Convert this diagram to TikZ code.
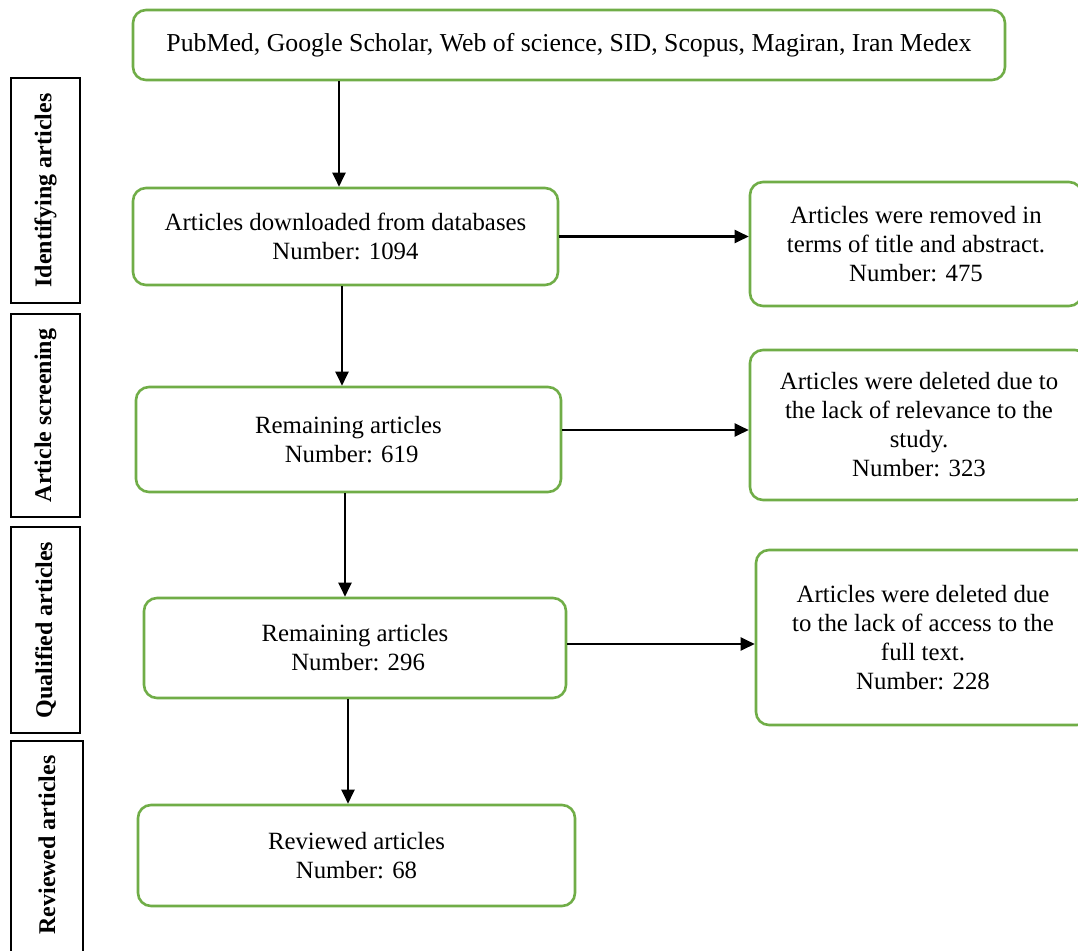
\documentclass[tikz,border=0pt]{standalone}
\usepackage{fontspec}
\setmainfont{Liberation Serif}
\usetikzlibrary{arrows.meta}
\definecolor{boxgreen}{HTML}{70AD47}
\tikzset{
  gbox/.style={draw=boxgreen, line width=2.6pt, rounded corners=13pt, fill=white,
    align=center, inner sep=0pt, font=\fontsize{24.8}{29}\selectfont},
  phase/.style={draw=black, line width=1.2pt, inner sep=0pt},
  phasetext/.style={rotate=90, font=\fontsize{24}{28}\selectfont\bfseries},
  arr/.style={line width=2.2pt, -{Triangle[length=14pt,width=13pt]}}
}
\begin{document}
\begin{tikzpicture}[x=1pt,y=-1pt]
\useasboundingbox (0,0) rectangle (1078,950);
\clip (0,0) rectangle (1078,950);
\fill[white] (0,0) rectangle (1078,950);
% phase labels
\node[phase, minimum width=69pt, minimum height=225pt] (p1) at (45.5,190.5) {};
\node[phasetext] (p1t) at (p1.center) {Identifying articles};
\node[phase, minimum width=69pt, minimum height=203pt] (p2) at (45.5,415.5) {};
\node[phasetext] (p2t) at (p2.center) {Article screening};
\node[phase, minimum width=69pt, minimum height=206pt] (p3) at (45.5,630) {};
\node[phasetext] (p3t) at (p3.center) {Qualified articles};
\node[phase, minimum width=72pt, minimum height=230pt] (p4) at (47,856) {};
\node[phasetext] (p4t) at (47,845) {Reviewed articles};
% main boxes
\node[gbox, minimum width=872pt, minimum height=70pt, font=\fontsize{25.8}{30}\selectfont] (top) at (569,45)
  {PubMed, Google Scholar, Web of science, SID, Scopus, Magiran, Iran Medex};
\node[gbox, minimum width=425pt, minimum height=97pt] (b2) at (345.5,236.5)
  {Articles downloaded from databases\\Number: 1094};
\node[gbox, minimum width=425pt, minimum height=105pt] (b3) at (348.5,439.5)
  {Remaining articles\\\ Number: 619};
\node[gbox, minimum width=422pt, minimum height=100pt] (b4) at (355,648)
  {Remaining articles\\\ Number: 296};
\node[gbox, minimum width=437pt, minimum height=101pt] (b5) at (356.5,855.5)
  {Reviewed articles\\Number: 68};
% right boxes
\node[gbox, minimum width=332pt, minimum height=124pt] (r1) at (916,244)
  {Articles were removed in\\terms of title and abstract.\\Number: 475};
\node[gbox, minimum width=338pt, minimum height=150pt] (r2) at (919,425)
  {Articles were deleted due to\\the lack of relevance to the\\study.\\Number: 323};
\node[gbox, minimum width=334pt, minimum height=175pt] (r3) at (923,637.5)
  {Articles were deleted due\\to the lack of access to the\\full text.\\Number: 228};
% vertical arrows
\draw[arr] ([xshift=-230pt]top.south) -- ([xshift=-6.5pt]b2.north);
\draw[arr] ([xshift=-3.5pt]b2.south) -- ([xshift=-6.5pt]b3.north);
\draw[arr] ([xshift=-3.5pt]b3.south) -- ([xshift=-10pt]b4.north);
\draw[arr] ([xshift=-7pt]b4.south) -- ([xshift=-8.5pt]b5.north);
% horizontal arrows
\draw[arr] (b2.east) -- (b2.east -| r1.west);
\draw[arr] ([yshift=9.5pt]b3.east) -- ([yshift=9.5pt]b3.east -| r2.west);
\draw[arr] ([yshift=4pt]b4.east) -- ([yshift=4pt]b4.east -| r3.west);
\end{tikzpicture}
\end{document}
